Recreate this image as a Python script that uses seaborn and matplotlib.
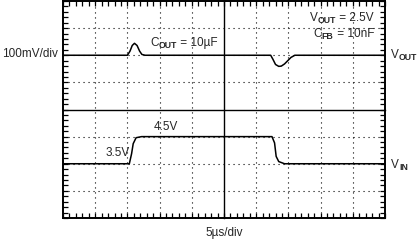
import matplotlib
matplotlib.use("Agg")
import matplotlib.pyplot as plt
from matplotlib.ticker import MultipleLocator, NullFormatter
import seaborn as sns
import pandas as pd

sns.set_style("white")
plt.rcParams['font.family'] = ['Liberation Sans', 'DejaVu Sans']

# Data in scope divisions (x: 5 µs/div, y: divisions from bottom)
vout_t = [0, 2.0, 2.08, 2.15, 2.22, 2.3, 2.38, 2.45, 2.55, 6.45, 6.52, 6.6, 6.7, 6.78, 6.88, 6.98, 7.08, 7.2, 10]
vout_v = [6, 6, 6.15, 6.36, 6.44, 6.36, 6.15, 6.03, 6, 6, 5.85, 5.66, 5.59, 5.6, 5.68, 5.8, 5.92, 6, 6]
vin_t = [0, 2.06, 2.13, 2.18, 2.27, 2.44, 6.49, 6.57, 6.62, 6.70, 6.88, 10]
vin_v = [2, 2, 2.37, 2.74, 2.96, 3.0, 3.0, 2.77, 2.27, 2.08, 2.0, 2]

W, H = 418, 242
fig = plt.figure(figsize=(W / 100, H / 100), dpi=100)
rect = [63 / W, 24 / H, 322 / W, 217 / H]
ax = fig.add_axes(rect)
ax.set_xlim(0, 10)
ax.set_ylim(0, 8)

for gx in [1, 2, 3, 4, 6, 7, 8, 9]:
    ax.axvline(gx, color='black', lw=0.8, ls=(0, (1, 3.5)), zorder=1)
for gy in [1, 2, 3, 5, 6, 7]:
    ax.axhline(gy, color='black', lw=0.8, ls=(0, (1, 3.5)), zorder=1)

for s in ax.spines.values():
    s.set_visible(True)
    s.set_linewidth(1.4)
    s.set_color('black')
ax.xaxis.set_major_locator(MultipleLocator(0.2))
ax.yaxis.set_major_locator(MultipleLocator(0.2))
ax.xaxis.set_major_formatter(NullFormatter())
ax.yaxis.set_major_formatter(NullFormatter())
ax.tick_params(axis='both', which='major', direction='in', length=3.5, width=0.9,
               top=True, bottom=True, left=True, right=True, color='black')

ax2 = fig.add_axes(rect)
ax2.set_xlim(0, 10)
ax2.set_ylim(0, 8)
ax2.patch.set_alpha(0)
ax2.spines['top'].set_visible(False)
ax2.spines['right'].set_visible(False)
ax2.spines['left'].set_position(('data', 5))
ax2.spines['bottom'].set_position(('data', 4))
for k in ['left', 'bottom']:
    ax2.spines[k].set_linewidth(1.0)
    ax2.spines[k].set_color('black')
ax2.xaxis.set_major_locator(MultipleLocator(0.2))
ax2.yaxis.set_major_locator(MultipleLocator(0.2))
ax2.xaxis.set_major_formatter(NullFormatter())
ax2.yaxis.set_major_formatter(NullFormatter())
ax2.tick_params(axis='both', which='major', direction='inout', length=4, width=0.9,
                top=False, right=False, color='black')

df_out = pd.DataFrame({'t': vout_t, 'v': vout_v})
df_in = pd.DataFrame({'t': vin_t, 'v': vin_v})
sns.lineplot(data=df_out, x='t', y='v', ax=ax2, color='black', lw=1.1, sort=False, zorder=5)
sns.lineplot(data=df_in, x='t', y='v', ax=ax2, color='black', lw=1.1, sort=False, zorder=5)
ax2.set_xlabel('')
ax2.set_ylabel('')

fs = 8.5
sfs = 6.3
fig.canvas.draw()
renderer = fig.canvas.get_renderer()


def sub_text(px, py, base, sub, rest='', ha='left'):
    """Place base+subscript+rest text; px, py in display pixels (py = baseline center)."""
    parts = [(base, fs, 0, 'normal'), (sub, sfs, -2.0, 'bold'), (rest, fs, 0, 'normal')]
    widths = []
    for s, f, _, w in parts:
        if not s:
            widths.append(0)
            continue
        t = fig.text(0, 0, s, fontsize=f, fontweight=w)
        widths.append(t.get_window_extent(renderer).width)
        t.remove()
    total = sum(widths)
    x = px if ha == 'left' else px - total
    for (s, f, dy, w), wd in zip(parts, widths):
        if s:
            fig.text(x / W, (py + dy) / H, s, fontsize=f, fontweight=w,
                     va='baseline', ha='left')
        x += wd


def y_of(pix_from_top):
    return H - pix_from_top

sub_text(150, y_of(46), 'C', 'OUT', ' = 10µF')
sub_text(374, y_of(21), 'V', 'OUT', ' = 2.5V', ha='right')
sub_text(374, y_of(37), 'C', 'FB', ' = 10nF', ha='right')
sub_text(391, y_of(58), 'V', 'OUT')
sub_text(391, y_of(168), 'V', 'IN')

ax2.text(3.2, 3.35, '4.5V', fontsize=fs, va='center', ha='center')
ax2.text(1.7, 2.4, '3.5V', fontsize=fs, va='center', ha='center')

fig.text(2 / W, 1 - 54 / H, '100mV/div', fontsize=fs, va='center', ha='left')
fig.text(224 / W, 1 - 233 / H, '5µs/div', fontsize=fs, va='center', ha='center')

fig.savefig('out.png', dpi=100)
